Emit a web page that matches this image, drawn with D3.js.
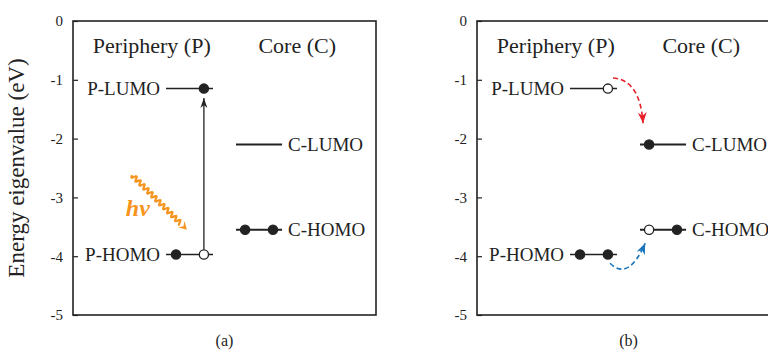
<!DOCTYPE html>
<html>
<head>
<meta charset="utf-8">
<script src="https://cdn.jsdelivr.net/npm/d3@7"></script>
<style>
  body { margin: 0; background: #fff; }
  svg { display: block; font-family: "Liberation Serif", "Times New Roman", serif; }
</style>
</head>
<body>
<svg id="chart" width="768" height="351"></svg>
<script>
(function() {
  'use strict';

  // energy levels (eV)
  var levelNames = ['P-LUMO', 'P-HOMO', 'C-LUMO', 'C-HOMO'];
  var levelSides = ['P', 'P', 'C', 'C'];
  var levelEnergies = [-1.15, -3.97, -2.1, -3.55];
  // electrons per slot: f = filled, o = hole, '' = nothing
  var occupancyA = [['', 'f'], ['f', 'o'], ['', ''], ['f', 'f']];
  var occupancyB = [['', 'o'], ['f', 'f'], ['f', ''], ['o', 'f']];
  var yTicks = [0, -1, -2, -3, -4, -5];
  var panelLetters = ['(a)', '(b)'];
  var groupTitles = ['Periphery (P)', 'Core (C)'];
  // arrows, in [x unit, eV]
  var excitation = [[4.32, -3.97], [4.32, -1.31]];
  var photon = [[1.95, -2.62], [3.76, -3.55]];
  var photonLabel = [2.14, -3.17];
  var electronPath = [[4.49, -0.97], [5.38, -1.0], [5.48, -1.74]];
  var holePath = [[4.39, -4.12], [5.0, -4.43], [5.55, -3.78]];

  var svg = d3.select('#chart');
  var panelLeft = [73, 477], panelW = 303, top = 21, bottom = 315;
  var lineSpan = { P: [3.07, 4.62], C: [5.38, 6.9] };
  var slotX = { P: [3.4, 4.32], C: [5.68, 6.6] };
  var titleX = [2.6, 7.4];
  var orange = '#f7941d', red = '#e8202a', blue = '#1b75bb';

  var y = d3.scaleLinear().domain([-5, 0]).range([bottom, top]);

  var defs = svg.append('defs');
  function marker(id, color, len, wid) {
    defs.append('marker')
      .attr('id', id)
      .attr('viewBox', '0 0 ' + len + ' ' + wid)
      .attr('refX', len).attr('refY', wid / 2)
      .attr('markerWidth', len).attr('markerHeight', wid)
      .attr('markerUnits', 'userSpaceOnUse')
      .attr('orient', 'auto')
      .append('path')
      .attr('d', 'M0,0L' + len + ',' + wid / 2 + 'L0,' + wid + 'L' + len * 0.3 + ',' + wid / 2 + 'Z')
      .attr('fill', color);
  }
  marker('headK', '#222', 10, 7);
  marker('headR', red, 11, 9);
  marker('headB', blue, 11, 9);

  // y-axis title
  svg.append('text')
    .attr('transform', 'translate(24,' + (top + bottom) / 2 + ') rotate(-90)')
    .attr('text-anchor', 'middle')
    .attr('font-size', 23)
    .attr('fill', '#222')
    .text('Energy eigenvalue (eV)');

  panelLeft.forEach(function(left, p) {
    var x = d3.scaleLinear().domain([0, 10]).range([left, left + panelW]);
    var g = svg.append('g');
    var occ = p === 0 ? occupancyA : occupancyB;

    g.append('g')
      .attr('transform', 'translate(' + left + ',0)')
      .call(d3.axisLeft(y).tickValues(yTicks).tickSize(-5).tickPadding(10)
        .tickFormat(function(d) { return String(d); }))
      .call(function(a) {
        a.select('.domain').remove();
        a.selectAll('line').attr('stroke', '#222').attr('stroke-width', 1.2);
        a.selectAll('text').attr('font-size', 15).attr('fill', '#222')
          .attr('font-family', '"Liberation Serif", serif');
      });

    g.append('rect')
      .attr('x', left).attr('y', top)
      .attr('width', panelW).attr('height', bottom - top)
      .attr('fill', 'none').attr('stroke', '#222').attr('stroke-width', 1.6);

    groupTitles.forEach(function(t, i) {
      g.append('text')
        .attr('x', x(titleX[i])).attr('y', y(-0.55))
        .attr('text-anchor', 'middle')
        .attr('font-size', 22).attr('fill', '#222')
        .text(t);
    });

    levelNames.forEach(function(name, i) {
      var side = levelSides[i], e = levelEnergies[i];
      var span = lineSpan[side];
      g.append('line')
        .attr('x1', x(span[0])).attr('x2', x(span[1]))
        .attr('y1', y(e)).attr('y2', y(e))
        .attr('stroke', '#222')
        .attr('stroke-width', side === 'C' ? 2 : 1.5);
      g.append('text')
        .attr('x', side === 'P' ? x(span[0]) - 6 : x(span[1]) + 6)
        .attr('y', y(e))
        .attr('dy', '0.35em')
        .attr('text-anchor', side === 'P' ? 'end' : 'start')
        .attr('font-size', 19).attr('fill', '#222')
        .text(name);
      occ[i].forEach(function(s, k) {
        if (!s) { return; }
        g.append('circle')
          .attr('cx', x(slotX[side][k])).attr('cy', y(e))
          .attr('r', 4.6)
          .attr('fill', s === 'f' ? '#222' : '#fff')
          .attr('stroke', '#222').attr('stroke-width', 1.3);
      });
    });

    g.append('text')
      .attr('x', x(5)).attr('y', 346)
      .attr('text-anchor', 'middle')
      .attr('font-size', 16).attr('fill', '#222')
      .text(panelLetters[p]);

    if (p === 0) {
      // vertical excitation arrow
      g.insert('line', 'circle')
        .attr('x1', x(excitation[0][0])).attr('y1', y(excitation[0][1]) - 4.6)
        .attr('x2', x(excitation[1][0])).attr('y2', y(excitation[1][1]))
        .attr('stroke', '#222').attr('stroke-width', 1.3)
        .attr('marker-end', 'url(#headK)');

      // wavy photon arrow
      var x0 = x(photon[0][0]), y0 = y(photon[0][1]);
      var x1 = x(photon[1][0]), y1 = y(photon[1][1]);
      var dx = x1 - x0, dy = y1 - y0, L = Math.sqrt(dx * dx + dy * dy);
      var ux = dx / L, uy = dy / L, nx = -uy, ny = ux;
      var head = 8, pts = [], s;
      for (s = 0; s <= L - head; s += 0.5) {
        var w = 2.2 * Math.sin(2 * Math.PI * s / 5.6);
        pts.push([x0 + ux * s + nx * w, y0 + uy * s + ny * w]);
      }
      g.append('path')
        .attr('d', d3.line()(pts))
        .attr('fill', 'none').attr('stroke', orange).attr('stroke-width', 2.2);
      var bx = x1 - ux * head, by = y1 - uy * head;
      g.append('path')
        .attr('d', 'M' + x1 + ',' + y1 +
          'L' + (bx + nx * 4.5) + ',' + (by + ny * 4.5) +
          'L' + (x1 - ux * head * 0.6) + ',' + (y1 - uy * head * 0.6) +
          'L' + (bx - nx * 4.5) + ',' + (by - ny * 4.5) + 'Z')
        .attr('fill', orange);
      g.append('text')
        .attr('x', x(photonLabel[0])).attr('y', y(photonLabel[1]))
        .attr('dy', '0.35em')
        .attr('text-anchor', 'middle')
        .attr('font-size', 24).attr('font-style', 'italic').attr('font-weight', 'bold')
        .attr('fill', orange)
        .text('hv');
    } else {
      [[electronPath, red, 'headR'], [holePath, blue, 'headB']].forEach(function(c) {
        var pp = c[0].map(function(d) { return [x(d[0]), y(d[1])]; });
        g.append('path')
          .attr('d', 'M' + pp[0] + 'Q' + pp[1] + ' ' + pp[2])
          .attr('fill', 'none')
          .attr('stroke', c[1]).attr('stroke-width', 1.6)
          .attr('stroke-dasharray', '5,3')
          .attr('marker-end', 'url(#' + c[2] + ')');
      });
    }
  });
}());
</script>
</body>
</html>
